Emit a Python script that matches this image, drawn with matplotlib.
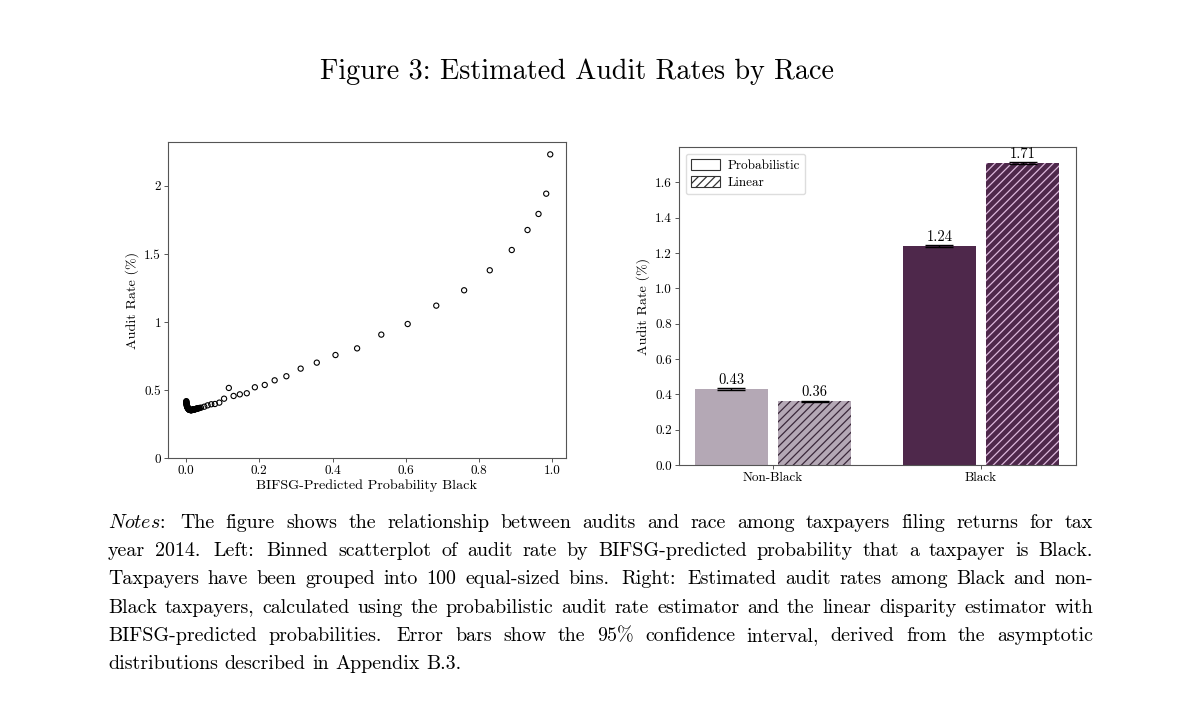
import matplotlib
matplotlib.use("Agg")
import matplotlib.pyplot as plt
from matplotlib.patches import Patch

plt.rcParams.update({
    "font.family": "serif",
    "font.serif": ["cmr10", "DejaVu Serif"],
    "mathtext.fontset": "cm",
    "axes.unicode_minus": False,
    "axes.formatter.use_mathtext": True,
    "hatch.linewidth": 0.9,
})

# ---------------- data ----------------
# Left panel: binned scatter (BIFSG-predicted probability Black vs audit rate %)
prob_black = [
    0.001, 0.001, 0.001, 0.001, 0.001, 0.002, 0.002, 0.002, 0.002, 0.003,
    0.003, 0.003, 0.004, 0.004, 0.004, 0.005, 0.005, 0.006, 0.006, 0.007,
    0.007, 0.008, 0.008, 0.009, 0.009, 0.010, 0.010, 0.011, 0.011, 0.012,
    0.012, 0.013, 0.013, 0.014, 0.014, 0.015, 0.015, 0.016, 0.016, 0.017,
    0.017, 0.018, 0.018, 0.019, 0.019, 0.020, 0.020, 0.021, 0.022, 0.022,
    0.023, 0.024, 0.025, 0.026, 0.027, 0.028, 0.029, 0.030, 0.031, 0.033,
    0.035, 0.037,
    0.041, 0.050, 0.059, 0.069, 0.079, 0.091, 0.104, 0.117, 0.130, 0.147,
    0.166, 0.188, 0.215, 0.242, 0.274, 0.313, 0.357, 0.408, 0.467, 0.533,
    0.605, 0.683, 0.759, 0.829, 0.889, 0.932, 0.962, 0.983, 0.994,
]
audit_rate = [
    0.418, 0.414, 0.410, 0.406, 0.402, 0.398, 0.394, 0.390, 0.387, 0.384,
    0.381, 0.378, 0.375, 0.373, 0.371, 0.369, 0.367, 0.365, 0.363, 0.361,
    0.360, 0.358, 0.357, 0.356, 0.355, 0.355, 0.354, 0.354, 0.353, 0.353,
    0.353, 0.353, 0.352, 0.352, 0.352, 0.353, 0.352, 0.353, 0.353, 0.353,
    0.354, 0.354, 0.354, 0.355, 0.355, 0.355, 0.356, 0.356, 0.357, 0.357,
    0.358, 0.358, 0.359, 0.360, 0.360, 0.361, 0.362, 0.363, 0.364, 0.365,
    0.366, 0.368,
    0.370, 0.377, 0.387, 0.395, 0.397, 0.407, 0.436, 0.515, 0.456, 0.468,
    0.476, 0.520, 0.537, 0.571, 0.601, 0.657, 0.701, 0.757, 0.806, 0.907,
    0.985, 1.120, 1.233, 1.380, 1.529, 1.676, 1.794, 1.943, 2.232,
]

# Right panel: estimated audit rates
groups = ["Non-Black", "Black"]
methods = ["Probabilistic", "Linear"]
probabilistic = [0.43, 1.24]
linear = [0.36, 1.71]
prob_err = [0.004, 0.004]
lin_err = [0.004, 0.006]

left_ticks = [0, 0.5, 1, 1.5, 2]
left_ticklabels = ["0", "0.5", "1", "1.5", "2"]
x_ticks = [0.0, 0.2, 0.4, 0.6, 0.8, 1.0]
right_ticks = [0.0, 0.2, 0.4, 0.6, 0.8, 1.0, 1.2, 1.4, 1.6]

# colours
light = "#b4a8b5"
dark = "#4e284b"
hatch_on_light = "#3a283a"
hatch_on_dark = "#dcb8dc"

W, H = 1200, 711
fig = plt.figure(figsize=(W / 100, H / 100), dpi=100)


def ax_rect(l, t, r, b):
    return [l / W, 1 - b / H, (r - l) / W, (b - t) / H]


tick_fs = 9.5
lab_fs = 10.2

# ---------------- left panel ----------------
ax1 = fig.add_axes(ax_rect(168, 142, 566, 458))
ax1.scatter(prob_black, audit_rate, s=14, facecolors="none",
            edgecolors="black", linewidths=0.8)
ax1.set_xlim(-0.049, 1.037)
ax1.set_ylim(0, 2.323)
ax1.set_yticks(left_ticks)
ax1.set_yticklabels(left_ticklabels)
ax1.set_xticks(x_ticks)
ax1.set_xticklabels([f"{v:.1f}" for v in x_ticks])
ax1.set_xlabel("BIFSG-Predicted Probability Black", fontsize=lab_fs, labelpad=2)
ax1.set_ylabel("Audit Rate (%)", fontsize=lab_fs, labelpad=4)

# ---------------- right panel ----------------
ax2 = fig.add_axes(ax_rect(679, 147, 1076, 465))
xpos = list(range(len(groups)))
bw = 0.35
off = 0.2
face_cols = [light, dark]
hatch_cols = [hatch_on_light, hatch_on_dark]
for i in xpos:
    ax2.bar(i - off, probabilistic[i], width=bw, color=face_cols[i],
            linewidth=0)
    ax2.bar(i + off, linear[i], width=bw, color=face_cols[i],
            edgecolor=hatch_cols[i], hatch="////", linewidth=0)
    ax2.errorbar(i - off, probabilistic[i], yerr=prob_err[i], fmt="none",
                 ecolor="black", elinewidth=1.0, capsize=10, capthick=1.0)
    ax2.errorbar(i + off, linear[i], yerr=lin_err[i], fmt="none",
                 ecolor="black", elinewidth=1.0, capsize=10, capthick=1.0)
    ax2.text(i - off, probabilistic[i] + 0.012, f"{probabilistic[i]:.2f}",
             ha="center", va="bottom", fontsize=10.5)
    ax2.text(i + off, linear[i] + 0.012, f"{linear[i]:.2f}",
             ha="center", va="bottom", fontsize=10.5)

ax2.set_xlim(-0.4525, 1.457)
ax2.set_ylim(0, 1.80)
ax2.set_yticks(right_ticks)
ax2.set_yticklabels([f"{v:.1f}" for v in right_ticks])
ax2.set_xticks(xpos)
ax2.set_xticklabels(groups)
ax2.set_ylabel("Audit Rate (%)", fontsize=lab_fs, labelpad=4)

handles = [
    Patch(facecolor="white", edgecolor="#333333", linewidth=0.8,
          label=methods[0]),
    Patch(facecolor="white", edgecolor="#333333", linewidth=0.8,
          hatch="////", label=methods[1]),
]
ax2.legend(handles=handles, loc="upper left", fontsize=9.5,
           frameon=True, fancybox=True, framealpha=1, edgecolor="#dddddd",
           handlelength=2.2, handleheight=0.9, borderpad=0.4,
           labelspacing=0.3, handletextpad=0.6, borderaxespad=0.5)

for ax in (ax1, ax2):
    for sp in ax.spines.values():
        sp.set_linewidth(0.8)
        sp.set_color("#555555")
    ax.tick_params(labelsize=tick_fs, length=3, width=0.7, color="#555555",
                   pad=2)

# ---------------- title ----------------
fig.text(577 / W, 1 - 72 / H, "Figure 3: Estimated Audit Rates by Race",
         ha="center", va="center", fontsize=20.3)

# ---------------- notes (justified) ----------------
note_lines = [
    [r"$\mathit{Notes}$:"] + "The figure shows the relationship between audits and race among taxpayers filing returns for tax".split(),
    "year 2014. Left: Binned scatterplot of audit rate by BIFSG-predicted probability that a taxpayer is Black.".split(),
    "Taxpayers have been grouped into 100 equal-sized bins. Right: Estimated audit rates among Black and non-".split(),
    "Black taxpayers, calculated using the probabilistic audit rate estimator and the linear disparity estimator with".split(),
    "BIFSG-predicted probabilities. Error bars show the 95% confidence interval, derived from the asymptotic".split(),
    "distributions described in Appendix B.3.".split(),
]
note_fs = 14.4
x_left, x_right = 108, 1093
y0, dy = 528, 28.2
renderer = fig.canvas.get_renderer()
space = 0.33 * note_fs * 100 / 72  # TeX-like interword space in px

for li, words in enumerate(note_lines):
    yb = 1 - (y0 + li * dy) / H
    texts = [fig.text(0, yb, w, fontsize=note_fs, ha="left", va="baseline")
             for w in words]
    widths = [t.get_window_extent(renderer).width for t in texts]
    # sentence-end gaps stretch a little more (TeX style)
    weights = [1.3 if w.endswith((".", ":")) else 1.0 for w in words[:-1]]
    last = li == len(note_lines) - 1
    if last:
        gaps = [space] * len(weights)
    else:
        natural = [space * wt for wt in weights]
        extra = (x_right - x_left - sum(widths) - sum(natural)) / sum(weights)
        gaps = [n + extra * wt for n, wt in zip(natural, weights)]
    x = x_left
    for k, (t, w) in enumerate(zip(texts, widths)):
        t.set_x(x / W)
        if k < len(gaps):
            x += w + gaps[k]

fig.savefig("out.png", dpi=100)
